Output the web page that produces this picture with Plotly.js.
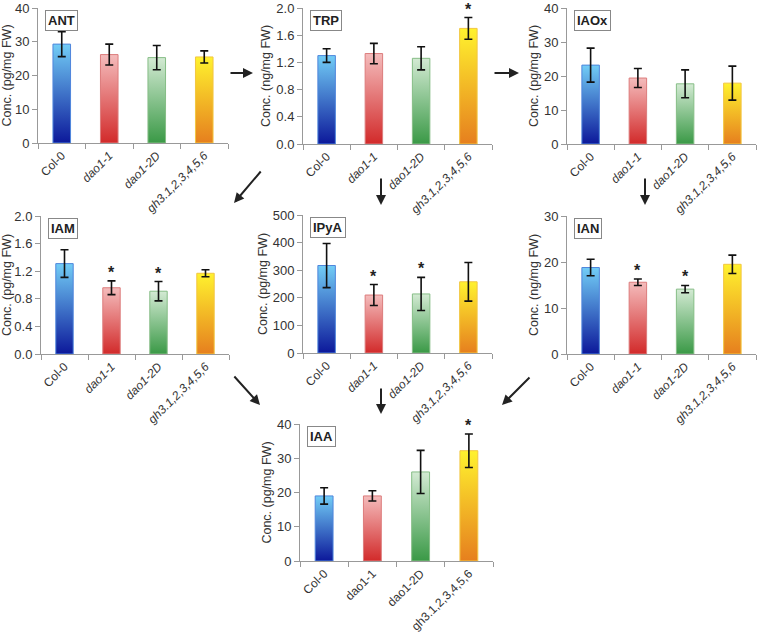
<!DOCTYPE html>
<html>
<head>
<meta charset="utf-8">
<script src="https://cdn.plot.ly/plotly-3.0.1.min.js"></script>
<style>html,body{margin:0;padding:0;background:#fff;}#chart{width:757px;height:636px;}</style>
</head>
<body>
<div id="chart"></div>
<script>
// ---- data ----
const categories = ['Col-0', 'dao1-1', 'dao1-2D', 'gh3.1,2,3,4,5,6'];

const ANT_vals = [29.3, 26.2, 25.3, 25.5];
const ANT_err  = [3.7, 3.1, 3.6, 1.8];
const ANT_sig  = [0, 0, 0, 0];

const TRP_vals = [1.30, 1.33, 1.26, 1.70];
const TRP_err  = [0.10, 0.15, 0.17, 0.16];
const TRP_sig  = [0, 0, 0, 1];

const IAOx_vals = [23.2, 19.4, 17.7, 17.9];
const IAOx_err  = [5.0, 2.8, 4.1, 5.0];
const IAOx_sig  = [0, 0, 0, 0];

const IAM_vals = [1.31, 0.96, 0.91, 1.17];
const IAM_err  = [0.20, 0.10, 0.14, 0.05];
const IAM_sig  = [0, 1, 1, 0];

const IPyA_vals = [317, 210, 214, 258];
const IPyA_err  = [80, 38, 60, 70];
const IPyA_sig  = [0, 1, 1, 0];

const IAN_vals = [18.8, 15.6, 14.1, 19.5];
const IAN_err  = [1.8, 0.7, 0.8, 2.0];
const IAN_sig  = [0, 1, 1, 0];

const IAA_vals = [19.0, 19.0, 26.0, 32.2];
const IAA_err  = [2.4, 1.5, 6.3, 4.9];
const IAA_sig  = [0, 0, 0, 1];

// ---- styling ----
const W = 757, H = 636;
const gradTop    = ['#72cdf6', '#f4bcbc', '#d3ead3', '#fff22e'];
const gradBottom = ['#0c189a', '#d22a2a', '#3a9946', '#e67f1e'];
const barLine    = ['#4f86dc', '#dc7c7c', '#86bd86', '#f2c640'];
const barHalf = 0.185;

const panels = [
  {name:'ANT',  vals:ANT_vals,  err:ANT_err,  sig:ANT_sig,  unit:'pg/mg FW', range:[0,40],  dtick:10,  fmt:'',    px:[38,228,8,143],   italic:true},
  {name:'TRP',  vals:TRP_vals,  err:TRP_err,  sig:TRP_sig,  unit:'ng/mg FW', range:[0,2],   dtick:0.4, fmt:'.1f', px:[303,492,8,144],  italic:true},
  {name:'IAOx', vals:IAOx_vals, err:IAOx_err, sig:IAOx_sig, unit:'pg/mg FW', range:[0,40],  dtick:10,  fmt:'',    px:[567,756,8,144],  italic:true},
  {name:'IAM',  vals:IAM_vals,  err:IAM_err,  sig:IAM_sig,  unit:'pg/mg FW', range:[0,2],   dtick:0.4, fmt:'.1f', px:[41,229,216,354], italic:true},
  {name:'IPyA', vals:IPyA_vals, err:IPyA_err, sig:IPyA_sig, unit:'pg/mg FW', range:[0,500], dtick:100, fmt:'',    px:[303,492,215,353],italic:true},
  {name:'IAN',  vals:IAN_vals,  err:IAN_err,  sig:IAN_sig,  unit:'ng/mg FW', range:[0,30],  dtick:10,  fmt:'',    px:[567,756,216,354],italic:true},
  {name:'IAA',  vals:IAA_vals,  err:IAA_err,  sig:IAA_sig,  unit:'pg/mg FW', range:[0,40],  dtick:10,  fmt:'',    px:[300,493,424,561],italic:false}
];

const traces = [];
const layout = {
  width: W, height: H,
  margin: {l:0, r:0, t:0, b:0},
  paper_bgcolor: '#fff', plot_bgcolor: 'rgba(0,0,0,0)',
  showlegend: false,
  font: {family: 'Liberation Sans, Arial, sans-serif', color: '#333'},
  annotations: [],
  hovermode: false
};

panels.forEach((p, k) => {
  const n = k + 1;
  const xa = 'x' + (n === 1 ? '' : n), ya = 'y' + (n === 1 ? '' : n);
  const xk = 'xaxis' + (n === 1 ? '' : n), yk = 'yaxis' + (n === 1 ? '' : n);
  const idx = categories.map((c, i) => i);

  // bar geometry (transparent bar trace, library-positioned)
  traces.push({
    type: 'bar', xaxis: xa, yaxis: ya,
    x: idx, y: p.vals, width: barHalf * 2,
    marker: {color: 'rgba(0,0,0,0)', line: {width: 0}},
    hoverinfo: 'skip'
  });

  // gradient-filled bars
  idx.forEach(i => {
    const v = p.vals[i];
    traces.push({
      type: 'scatter', mode: 'lines', xaxis: xa, yaxis: ya,
      x: [i - barHalf, i - barHalf, i + barHalf, i + barHalf, i - barHalf],
      y: [0, v, v, 0, 0],
      fill: 'toself',
      fillgradient: {type: 'vertical', colorscale: [[0, gradBottom[i]], [1, gradTop[i]]]},
      line: {color: barLine[i], width: 1},
      hoverinfo: 'skip'
    });
  });

  // error bars drawn on top
  traces.push({
    type: 'scatter', mode: 'markers', xaxis: xa, yaxis: ya,
    x: idx, y: p.vals,
    marker: {size: 1, color: 'rgba(0,0,0,0)'},
    error_y: {type: 'data', array: p.err, visible: true, color: '#111', thickness: 1.6, width: 4},
    hoverinfo: 'skip'
  });

  const ticktext = categories.map((c, i) => (p.italic && i > 0) ? '<i>' + c + '</i>' : c);

  layout[xk] = {
    domain: [p.px[0] / W, p.px[1] / W],
    anchor: ya,
    range: [-0.5, 3.5],
    tickmode: 'array', tickvals: idx, ticktext: ticktext,
    ticks: '', tickangle: -45,
    tickfont: {size: 12, color: '#333'},
    showline: true, linecolor: '#999', linewidth: 1,
    showgrid: false, zeroline: false, fixedrange: true,
    minor: {tickmode: 'array', tickvals: [-0.5, 0.5, 1.5, 2.5, 3.5], ticks: 'outside', ticklen: 5, tickcolor: '#999', tickwidth: 1, showgrid: false}
  };
  layout[yk] = {
    domain: [1 - p.px[3] / H, 1 - p.px[2] / H],
    anchor: xa,
    range: p.range, dtick: p.dtick, tick0: 0, tickformat: p.fmt,
    ticks: 'outside', ticklen: 5, tickcolor: '#999',
    tickfont: {size: 13, color: '#333'},
    ticklabeloverflow: 'allow',
    showline: true, linecolor: '#999', linewidth: 1,
    showgrid: false, zeroline: false, fixedrange: true,
    title: {text: 'Conc. (' + p.unit + ')', font: {size: 12.5, color: '#333'}, standoff: 2}
  };

  // panel label box
  layout.annotations.push({
    xref: xa + ' domain', yref: ya + ' domain', x: 0.035, y: 0.985,
    xanchor: 'left', yanchor: 'top', showarrow: false,
    text: '<b>' + p.name + '</b>', font: {size: 13, color: '#222'},
    bordercolor: '#888', borderwidth: 1, borderpad: 2, bgcolor: '#fff'
  });

  // significance stars
  idx.forEach(i => {
    if (p.sig[i]) {
      layout.annotations.push({
        xref: xa, yref: ya, x: i, y: p.vals[i] + p.err[i],
        xanchor: 'center', yanchor: 'bottom', yshift: -2, showarrow: false,
        text: '<b>*</b>', font: {size: 16, color: '#222'}
      });
    }
  });
});

// pathway arrows (head position, tail offset in px)
const arrows = [
  [253, 73, -24, 0],
  [519, 73, -26, 0],
  [234, 203, 28, -33],
  [381, 205, 0, -28],
  [645, 205, 0, -28],
  [260, 405, -27, -30],
  [381, 414, 0, -27],
  [502, 405, 29, -29]
];
arrows.forEach(a => {
  layout.annotations.push({
    xref: 'paper', yref: 'paper', x: a[0] / W, y: 1 - a[1] / H,
    ax: a[2], ay: a[3], showarrow: true, text: '',
    arrowhead: 2, arrowsize: 1, arrowwidth: 2, arrowcolor: '#222', standoff: 0
  });
});

Plotly.newPlot('chart', traces, layout, {staticPlot: true, displayModeBar: false});
</script>
</body>
</html>
